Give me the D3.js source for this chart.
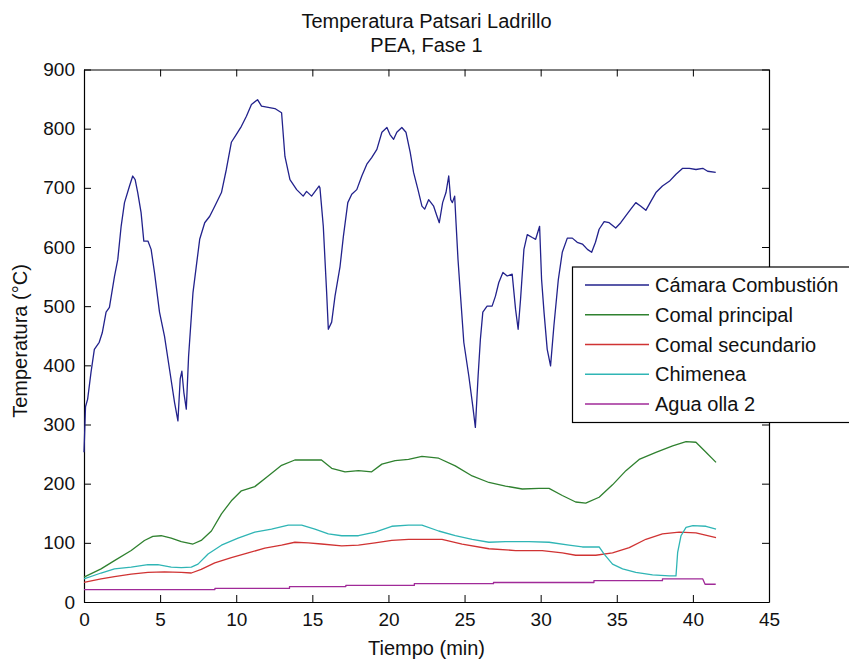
<!DOCTYPE html>
<html>
<head>
<meta charset="utf-8">
<script src="https://cdn.jsdelivr.net/npm/d3@7"></script>
<style>
  html, body { margin: 0; padding: 0; background: #fff; }
  svg { display: block; }
  text { font-family: "Liberation Sans", Arial, Helvetica, sans-serif; fill: #111; }
</style>
</head>
<body>
<svg id="chart" width="849" height="664"></svg>
<script>
// ---------------- DATA ----------------
const titleLines = ["Temperatura Patsari Ladrillo", "PEA, Fase 1"];
const xLabel = "Tiempo (min)";
const yLabel = "Temperatura (°C)";
const xTicks = [0, 5, 10, 15, 20, 25, 30, 35, 40, 45];
const yTicks = [0, 100, 200, 300, 400, 500, 600, 700, 800, 900];
const seriesNames = ["Cámara Combustión", "Comal principal", "Comal secundario", "Chimenea", "Agua olla 2"];
const seriesColors = ["#22228c", "#2f812f", "#d03333", "#2fb5b5", "#a02a98"];

// Cámara Combustión
const tCamara = [0,0.1,0.24,0.46,0.68,1.0,1.2,1.45,1.67,2.0,2.22,2.44,2.66,2.99,3.2,3.36,3.53,3.75,3.93,4.2,4.41,4.63,4.96,5.29,5.62,5.95,6.17,6.32,6.43,6.56,6.72,6.87,7.16,7.38,7.6,7.93,8.26,8.59,9.03,9.35,9.68,10.0,10.34,10.67,11.0,11.4,11.66,12.1,12.54,12.98,13.2,13.53,13.97,14.4,14.62,14.95,15.44,15.5,15.72,15.83,15.94,16.05,16.27,16.49,16.82,17.04,17.33,17.59,17.92,18.25,18.58,18.9,19.24,19.57,19.9,20.1,20.34,20.55,20.88,21.15,21.43,21.65,21.94,22.2,22.38,22.64,22.97,23.19,23.34,23.56,23.78,23.96,24.09,24.2,24.35,24.44,24.57,24.72,24.95,25.28,25.54,25.71,25.89,26.04,26.2,26.48,26.81,27.03,27.25,27.52,27.8,28.13,28.35,28.52,28.68,28.9,29.12,29.45,29.67,29.93,30.06,30.22,30.43,30.65,30.87,31.16,31.42,31.75,32.08,32.4,32.74,33.07,33.35,33.6,33.84,34.17,34.5,34.93,35.26,35.6,35.92,36.25,36.58,36.91,37.24,37.57,38.0,38.45,38.89,39.33,39.77,40.2,40.65,40.97,41.5];
const camara = [253,330,343,388,427,439,455,490,498,550,579,635,675,703,720,714,692,658,610,610,596,557,490,449,393,337,306,377,390,354,326,415,523,568,613,641,652,669,692,731,777,790,804,821,841,849,838,836,834,827,753,714,697,686,694,686,703,700,635,579,523,461,473,517,567,618,675,689,697,720,740,751,765,794,802,790,782,794,802,794,760,726,697,669,664,680,669,652,641,675,692,720,680,675,686,641,579,523,439,382,331,295,382,444,490,500,500,517,540,557,551,554,495,461,512,596,621,616,613,635,545,490,427,399,467,545,591,615,615,608,605,596,591,608,630,643,641,632,641,653,664,675,669,662,677,692,703,711,723,733,733,731,733,728,726];

// Comal principal
const tComalP = [0,1.12,2.0,3.1,3.97,4.52,5.07,5.73,6.39,7.16,7.7,8.37,9.03,9.68,10.34,11.22,12.1,12.98,13.85,14.73,15.6,16.27,17.15,18.03,18.9,19.57,20.44,21.32,22.2,23.3,24.39,25.5,26.6,27.69,28.79,29.89,30.55,31.42,32.3,32.96,33.84,34.72,35.6,36.47,37.57,38.67,39.55,40.2,40.86,41.52];
const comalP = [42,56,70,87,104,111,112,108,102,98,104,120,149,171,188,195,213,231,240,240,240,226,220,222,220,233,239,241,246,243,230,213,202,196,191,192,192,180,169,167,177,198,222,241,253,264,271,270,253,236];

// Comal secundario
const tComalS = [0,1.12,2.0,3.1,4.2,5.29,6.39,7.05,7.7,8.59,9.68,10.78,11.88,12.98,13.85,14.73,15.6,16.93,18.03,19.12,20.22,21.32,22.64,23.52,24.84,26.6,28.35,30.1,31.42,32.3,33.62,34.72,35.82,36.91,38.0,39.1,40.2,41.52];
const comalS = [33,39,43,47,50,51,50,49,55,66,75,83,91,96,101,100,98,95,96,100,104,106,106,106,98,90,87,87,83,79,79,83,92,106,115,118,117,109];

// Chimenea
const tChimenea = [0,1.12,2.0,3.1,4.2,4.85,5.73,6.39,7.05,7.49,8.15,9.03,10.12,11.22,12.32,13.42,14.3,15.17,16.05,16.93,18.03,19.12,20.22,21.32,22.2,23.3,24.39,25.5,26.6,27.69,29.23,30.55,31.86,32.74,33.84,34.17,34.72,35.38,36.25,37.35,38.45,38.89,39.0,39.22,39.55,40.0,40.86,41.52];
const chimenea = [39,49,56,59,63,63,59,58,59,64,81,96,108,118,123,130,130,123,115,112,112,118,128,130,130,120,112,106,101,102,102,101,96,93,93,81,64,56,50,46,44,44,84,112,126,129,128,123];

// Agua olla 2
const tAgua = [0,8.6,8.6,13.5,13.5,17.2,17.2,21.7,21.7,26.9,26.9,33.5,33.5,38.0,38.0,40.65,40.8,41.5];
const agua = [21,21,23,23,26,26,28,28,31,31,33,33,36,36,39,39,30,30];

// ---------------- CHART ----------------
const svg = d3.select("#chart");
const margin = {left: 84, right: 80, top: 69.5, bottom: 62};
const W = 849, H = 664;
const x0 = margin.left, x1 = W - margin.right;   // 84..769
const y0 = H - margin.bottom, y1 = margin.top;   // 602..69.5

const x = d3.scaleLinear().domain([0, 45]).range([x0, x1]);
const y = d3.scaleLinear().domain([0, 900]).range([y0, y1]);

const fontTick = "19px";

// Bottom axis (ticks inward)
const gx = svg.append("g").attr("transform", `translate(0,${y0})`)
  .call(d3.axisBottom(x).tickValues(xTicks).tickFormat(d3.format("d"))
    .tickSizeInner(-7).tickSizeOuter(0).tickPadding(11));
// Left axis
const gy = svg.append("g").attr("transform", `translate(${x0},0)`)
  .call(d3.axisLeft(y).tickValues(yTicks).tickFormat(d3.format("d"))
    .tickSizeInner(-7).tickSizeOuter(0).tickPadding(9));
// Top axis (ticks only)
const gt = svg.append("g").attr("transform", `translate(0,${y1})`)
  .call(d3.axisTop(x).tickValues(xTicks).tickFormat("")
    .tickSizeInner(-7).tickSizeOuter(0));
// Right axis (ticks only)
const gr = svg.append("g").attr("transform", `translate(${x1},0)`)
  .call(d3.axisRight(y).tickValues(yTicks).tickFormat("")
    .tickSizeInner(-7).tickSizeOuter(0));

[gx, gy, gt, gr].forEach(g => {
  g.selectAll(".domain").attr("stroke", "#000").attr("stroke-width", 1.2);
  g.selectAll(".tick line").attr("stroke", "#000").attr("stroke-width", 1);
  g.selectAll(".tick text").style("font-size", fontTick)
    .style("font-family", '"Liberation Sans", Arial, sans-serif').attr("fill", "#111");
});

// Series lines
const series = [
  {t: tCamara, v: camara},
  {t: tComalP, v: comalP},
  {t: tComalS, v: comalS},
  {t: tChimenea, v: chimenea},
  {t: tAgua, v: agua}
];
const line = d3.line().x(d => x(d[0])).y(d => y(d[1]));
const plotG = svg.append("g");
// draw in reverse so blue on top like MATLAB? MATLAB draws in order; last on top.
series.forEach((s, i) => {
  const pts = s.t.map((t, k) => [t, s.v[k]]);
  plotG.append("path").datum(pts)
    .attr("d", line)
    .attr("fill", "none")
    .attr("stroke", seriesColors[i])
    .attr("stroke-width", 1.3)
    .attr("stroke-linejoin", "round");
});

// Title
svg.append("text").attr("x", (x0 + x1) / 2).attr("y", 28).attr("text-anchor", "middle")
  .style("font-size", "20px").text(titleLines[0]);
svg.append("text").attr("x", (x0 + x1) / 2).attr("y", 52).attr("text-anchor", "middle")
  .style("font-size", "20px").text(titleLines[1]);

// Axis labels
svg.append("text").attr("x", (x0 + x1) / 2).attr("y", 655).attr("text-anchor", "middle")
  .style("font-size", "20px").text(xLabel);
svg.append("text").attr("transform", "translate(27,341) rotate(-90)").attr("text-anchor", "middle")
  .style("font-size", "20px").text(yLabel);

// Legend
const legX = 572.5, legY = 267, legH = 155.5;
const lg = svg.append("g");
lg.append("rect").attr("x", legX).attr("y", legY).attr("width", 300).attr("height", legH)
  .attr("fill", "#fff").attr("stroke", "#000").attr("stroke-width", 1.2);
const rowY = d3.scalePoint().domain(seriesNames).range([285, 404]);
seriesNames.forEach((name, i) => {
  const yy = rowY(name);
  lg.append("line").attr("x1", 585).attr("x2", 649).attr("y1", yy).attr("y2", yy)
    .attr("stroke", seriesColors[i]).attr("stroke-width", 1.3);
  lg.append("text").attr("x", 655).attr("y", yy).attr("dy", "0.36em")
    .style("font-size", "20px").text(name);
});
</script>
</body>
</html>
